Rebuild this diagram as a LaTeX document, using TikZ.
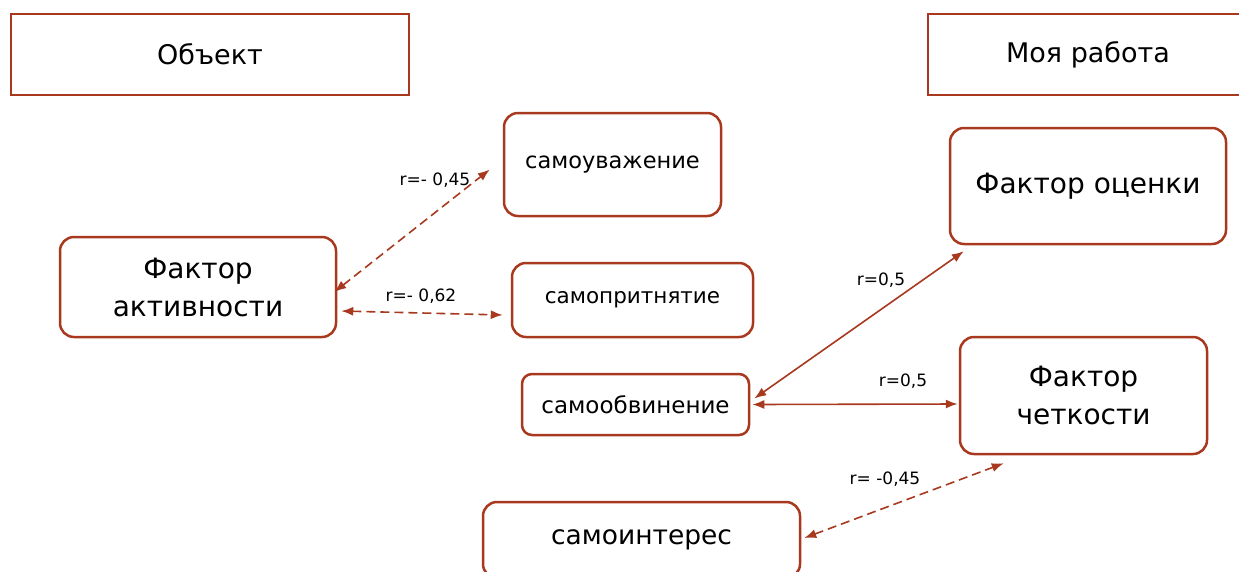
\documentclass[tikz,border=0pt]{standalone}
\usepackage{fontspec}
\setmainfont{DejaVu Sans}
\usetikzlibrary{arrows.meta}
\definecolor{rust}{RGB}{168,56,30}
\tikzset{
  hdrbox/.style={draw=rust, line width=2.5pt, minimum width=398pt, minimum height=81pt, font=\fontsize{27}{32}\selectfont},
  rbox/.style={draw=rust, line width=2.5pt, rounded corners=14pt, align=center},
  big/.style={font=\fontsize{28}{38}\selectfont},
  lbl/.style={font=\fontsize{17}{20}\selectfont, inner sep=0pt},
  link/.style={draw=rust, line width=1.6pt, {Latex[length=12pt,width=9pt]}-{Latex[length=12pt,width=9pt]}},
  dlink/.style={link, dash pattern=on 9pt off 5pt}
}
\begin{document}
\begin{tikzpicture}[x=1pt,y=-1pt]
\useasboundingbox (0,0) rectangle (1239,571);
\node[hdrbox] (obj) at (210,54.5) {Объект};
\node[hdrbox, minimum width=320pt] (work) at (1088,54.5) {Моя работа};

\node[rbox, big, minimum width=276pt, minimum height=100pt] (act) at (198,287) {Фактор\\активности};
\node[rbox, font=\fontsize{22.5}{26}\selectfont, minimum width=217pt, minimum height=103pt] (s1) at (612.5,164.5) {самоуважение};
\node[rbox, font=\fontsize{21.5}{26}\selectfont, minimum width=241pt, minimum height=74pt] (s2) at (632.5,300) {самопритнятие};
\node[rbox, font=\fontsize{23}{26}\selectfont, minimum width=227pt, minimum height=61pt, rounded corners=10pt] (s3) at (635.5,404.5) {самообвинение};
\node[rbox, font=\fontsize{26.5}{30}\selectfont, minimum width=317pt, minimum height=76pt] (s4) at (641.5,540) {самоинтерес};
\node[rbox, big, minimum width=276pt, minimum height=116pt] (oc) at (1088,186) {Фактор оценки};
\node[rbox, big, minimum width=247pt, minimum height=117pt] (ch) at (1083.5,395.5) {Фактор\\четкости};

\draw[dlink] ([xshift=-3pt,yshift=-5pt]act.east) -- ([xshift=-13pt,yshift=-5pt]s1.west);
\draw[dlink] ([xshift=4pt,yshift=-24pt]act.east) -- ([xshift=-8pt,yshift=-15pt]s2.west);
\draw[link] ([xshift=4pt,yshift=6pt]s3.east) -- ([xshift=15pt,yshift=-6pt]oc.south west);
\draw[link] ([xshift=2pt]s3.east) -- ([xshift=-1pt,yshift=-8.5pt]ch.west);
\draw[dlink] ([xshift=3pt,yshift=2pt]s4.east) -- ([xshift=45pt,yshift=-8pt]ch.south west);

\node[lbl] (l1) at (435,180) {r=- 0,45};
\node[lbl] (l2) at (421,296) {r=- 0,62};
\node[lbl] (l3) at (881,280) {r=0,5};
\node[lbl] (l4) at (903,381) {r=0,5};
\node[lbl] (l5) at (885,479) {r= -0,45};
\end{tikzpicture}
\end{document}
